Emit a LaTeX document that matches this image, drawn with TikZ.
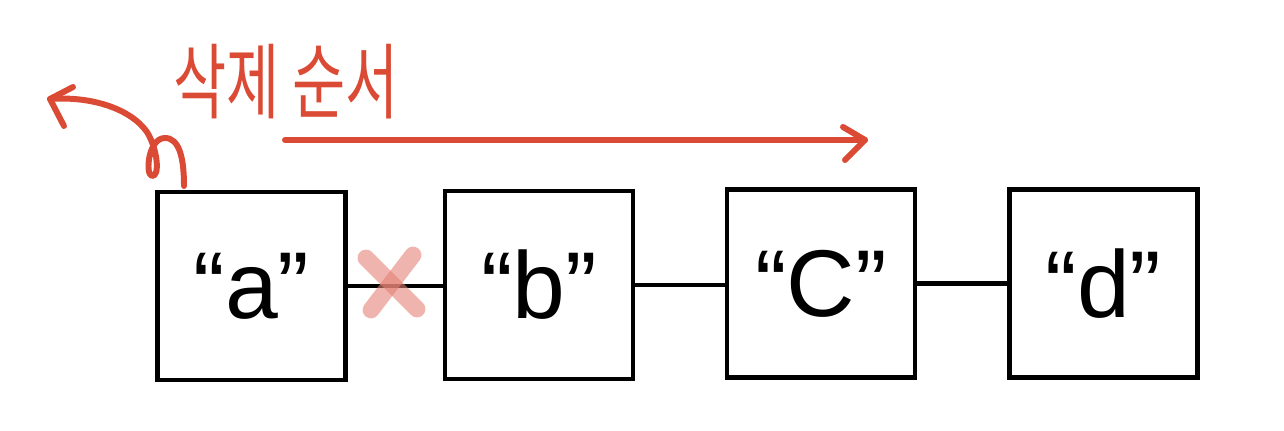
\documentclass[tikz,border=0pt]{standalone}
\usepackage{fontspec}
\setmainfont{Liberation Sans}
\newfontfamily\krfont{Noto Sans CJK KR}
\usetikzlibrary{arrows.meta}
\definecolor{pen}{HTML}{DB4A34}
\definecolor{xred}{HTML}{E48276}
\tikzset{
  px/.style={x=0.02cm,y=-0.02cm},
  boxnode/.style={draw=black, line width=2.8pt, minimum width=3.76cm, minimum height=3.76cm, inner sep=0pt, font=\fontsize{54}{60}\selectfont},
  link/.style={draw=black, line width=2.3pt},
  redpen/.style={draw=pen, line width=3.4pt, line cap=round, line join=round},
  cross/.style={draw=xred, line width=9.6pt, line cap=round, opacity=0.6}
}
\begin{document}
\begin{tikzpicture}[px]
\useasboundingbox (0,0) rectangle (1284,431);
\node[boxnode] (a) at (251.5,286) {\textquotedblleft a\textquotedblright};
\node[boxnode] (b) at (539,285) {\textquotedblleft b\textquotedblright};
\node[boxnode] (c) at (821,283.5) {\textquotedblleft C\textquotedblright};
\node[boxnode] (d) at (1103.5,283.5) {\textquotedblleft d\textquotedblright};
\draw[link] (a.east) -- (a.east -| b.west);
\draw[link] (b.east) -- (b.east -| c.west);
\draw[link] (c.east) -- (c.east -| d.west);
% cross
\draw[cross] (366,258) -- (417,309);
\draw[cross] (413,255) -- (371,310);
% label
\node[text=pen, font=\krfont\fontsize{47}{50}\selectfont, xscale=0.7] (lbl) at (286,82) {삭제 순서};
% long arrow
\coordinate (s1) at (285,140);
\coordinate (e1) at (865,140);
\draw[redpen] (s1) -- (e1);
\draw[redpen] (843,127) -- (e1) -- (845,160);
% curled arrow
\coordinate (s2) at (184,186);
\coordinate (e2) at (50,99);
\draw[redpen] (s2) .. controls (184,160) and (180,138) .. (165,138)
  .. controls (148,138) and (145,175) .. (152,176)
  .. controls (160,177) and (158,150) .. (147,132)
  .. controls (130,108) and (90,96) .. (e2);
\draw[redpen] (73,87) -- (e2) -- (64,126);
\end{tikzpicture}
\end{document}
